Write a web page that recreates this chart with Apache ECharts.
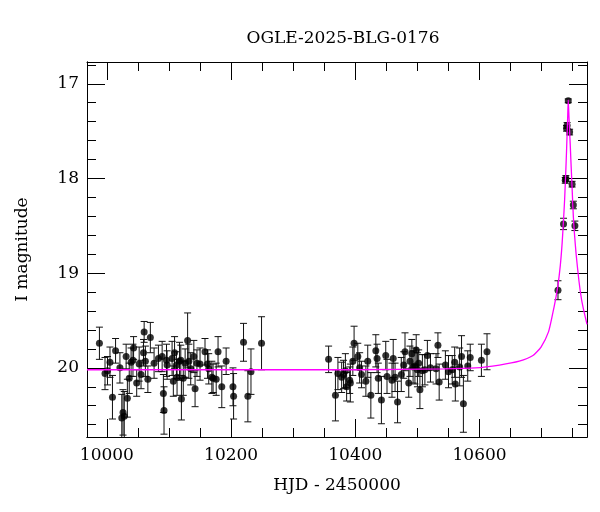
<!DOCTYPE html>
<html><head><meta charset="utf-8">
<script src="https://cdn.jsdelivr.net/npm/echarts@6/dist/echarts.min.js"></script>
<style>html,body{margin:0;padding:0;background:#fff}#c{width:600px;height:512px}</style>
</head><body><div id="c"></div>
<script>
const obsHJD = [
 9988,9997,10001,10005,10009,10014,10021,10024,10026,10028,10031,10033,10036,10039,10042,10043,10048,10052,10055,10059,10060,10062,10066,10070,10076,10083,10089,10091,10092,10096,10097,10105,10107,10109,10112,10113,10117,10119,10120,10123,10126,10130,10132,10135,10140,10142,10145,10150,10158,10162,10164,10169,10171,10176,10179,10185,10192,10203,10204,10220,10227,10232,10249,
 10357,10368,10372,10378,10381,10384,10386,10391,10392,10396,10398,10404,10407,10410,10417,10420,10425,10433,10435,10437,10442,10449,10451,10459,10461,10464,10468,10474,10478,10480,10486,10488,10491,10493,10496,10498,10500,10502,10504,10508,10512,10516,10521,10530,10533,10535,10545,10550,10556,10560,10561,10568,10571,10574,10581,10585,10603,10612,
 10726.3,10735.2,10738,10739,10740,10741,10742.8,10745,10749,10751,10753.5
];
const obsMag = [
 19.74,20.06,20.03,19.94,20.31,19.82,20.00,20.53,20.47,20.51,19.88,20.32,20.11,19.94,19.92,19.79,20.16,19.96,20.07,19.84,19.62,19.93,20.12,19.68,19.95,19.90,19.88,20.27,20.45,19.92,19.97,19.90,20.14,19.84,19.97,20.10,19.93,19.92,20.33,20.11,19.95,19.71,19.93,20.01,19.88,20.22,19.95,19.96,19.83,19.96,20.01,20.10,20.11,20.12,19.83,20.20,19.93,20.20,20.30,19.73,20.30,20.04,19.74,
 19.91,20.29,20.06,20.10,20.07,20.03,20.20,20.13,20.16,19.93,19.74,19.88,20.00,20.07,20.14,19.93,20.29,19.82,19.90,20.11,20.34,19.87,20.09,20.13,19.90,20.10,20.36,20.07,19.97,19.83,20.16,19.93,19.85,19.99,19.98,19.81,20.02,19.95,20.23,20.03,20.02,19.87,20.00,20.01,19.76,20.15,19.97,20.04,20.02,19.94,20.17,19.99,19.88,20.38,19.98,19.89,19.92,19.83,
 19.18,18.48,18.02,18.00,17.47,17.44,17.18,17.51,18.06,18.28,18.50
];
const obsErr = [
 0.17,0.17,0.15,0.16,0.23,0.13,0.16,0.25,0.24,0.26,0.13,0.20,0.16,0.15,0.17,0.12,0.14,0.18,0.15,0.14,0.11,0.16,0.14,0.16,0.16,0.14,0.16,0.20,0.25,0.17,0.15,0.18,0.16,0.17,0.14,0.19,0.20,0.16,0.22,0.18,0.15,0.29,0.18,0.17,0.17,0.19,0.14,0.17,0.14,0.15,0.16,0.17,0.15,0.17,0.16,0.22,0.14,0.20,0.24,0.20,0.27,0.24,0.28,
 0.14,0.27,0.17,0.16,0.15,0.18,0.15,0.14,0.20,0.15,0.18,0.14,0.16,0.14,0.16,0.17,0.24,0.17,0.15,0.16,0.25,0.15,0.18,0.18,0.20,0.15,0.22,0.18,0.14,0.20,0.15,0.16,0.15,0.17,0.19,0.16,0.18,0.14,0.20,0.17,0.16,0.16,0.15,0.16,0.13,0.19,0.15,0.17,0.15,0.16,0.18,0.20,0.22,0.30,0.16,0.14,0.17,0.19,
 0.10,0.06,0.03,0.03,0.03,0.03,0.02,0.03,0.03,0.04,0.05
];
const modelHJD = [9968,10400,10543,10593,10632,10664,10686,10699,10711,10718,10722,10726,10730,10733,10735,10737,10738,10739,10740,10741,10742,10742.8,10744,10745,10746,10747,10748,10749,10751,10753,10755.5,10760,10764,10768,10773];
const modelMag = [20.02,20.02,20.01,20.00,19.97,19.93,19.87,19.78,19.62,19.42,19.29,19.14,18.92,18.68,18.46,18.22,18.06,17.90,17.72,17.52,17.33,17.17,17.35,17.50,17.64,17.80,17.95,18.10,18.40,18.60,18.80,19.08,19.27,19.40,19.54];
const xMajorTicks = [10000,10200,10400,10600];
const xMinorTicks = [10000,10050,10100,10150,10200,10250,10300,10350,10400,10450,10500,10550,10600,10650,10700,10750];
const yMajorTicks = [17,18,19,20];
const yMinorTicks = [16.8,17.0,17.2,17.4,17.6,17.8,18.0,18.2,18.4,18.6,18.8,19.0,19.2,19.4,19.6,19.8,20.0,20.2,20.4,20.6];

const FONT = 'DejaVu Serif';
const X_MIN = 9968, X_MAX = 10773, Y_MIN = 16.77, Y_MAX = 20.73;
const line = {show:true, lineStyle:{color:'#000', width:1}};
function xAx(pos, ticks, len, labels, extra) {
  return Object.assign({
    type:'value', position:pos, min:X_MIN, max:X_MAX, scale:true,
    axisLine: labels!==null ? line : {show:false},
    axisTick:{show:true, inside:true, length:len, customValues:ticks, lineStyle:{color:'#000', width:1}},
    axisLabel: labels ? {show:true, customValues:labels, color:'#000', fontFamily:FONT, fontSize:17, margin:10, formatter: v => String(v)} : {show:false},
    splitLine:{show:false}
  }, extra||{});
}
function yAx(pos, ticks, len, labels, extra) {
  return Object.assign({
    type:'value', position:pos, min:Y_MIN, max:Y_MAX, inverse:true, scale:true,
    axisLine: labels!==null ? line : {show:false},
    axisTick:{show:true, inside:true, length:len, customValues:ticks, lineStyle:{color:'#000', width:1}},
    axisLabel: labels ? {show:true, customValues:labels, color:'#000', fontFamily:FONT, fontSize:17, margin:8, formatter: v => String(v)} : {show:false},
    splitLine:{show:false}
  }, extra||{});
}
const chart = echarts.init(document.getElementById('c'), null, {renderer:'canvas'});
const pts = obsHJD.map((x,i)=>[x, obsMag[i], obsErr[i]]);
chart.setOption({
  animation:false,
  backgroundColor:'#fff',
  title:{text:'OGLE-2025-BLG-0176', left:338, top:25, textAlign:'center',
    textStyle:{fontFamily:FONT, fontSize:17, fontWeight:'normal', color:'#000'}},
  grid:{left:87, right:13, top:62, bottom:75, containLabel:false},
  xAxis:[
    xAx('bottom', xMajorTicks, 18, xMajorTicks, {name:'HJD - 2450000', nameLocation:'middle', nameGap:40,
      nameTextStyle:{fontFamily:FONT, fontSize:17, color:'#000'}}),
    xAx('bottom', xMinorTicks, 9, false),
    xAx('top', xMajorTicks, 18, false),
    xAx('top', xMinorTicks, 9, null)
  ],
  yAxis:[
    yAx('left', yMajorTicks, 18, yMajorTicks, {name:'I magnitude', nameLocation:'middle', nameGap:56,
      nameTextStyle:{fontFamily:FONT, fontSize:17, color:'#000'}}),
    yAx('left', yMinorTicks, 9, false),
    yAx('right', yMajorTicks, 18, false),
    yAx('right', yMinorTicks, 9, null)
  ],
  series:[
    {type:'custom', xAxisIndex:0, yAxisIndex:0, data:pts, z:2, clip:true,
     renderItem:function(params, api){
       const x = api.value(0), y = api.value(1), e = api.value(2);
       const top = api.coord([x, y-e]), bot = api.coord([x, y+e]);
       const cw = 3.5;
       const st = {stroke:'#111', lineWidth:1};
       return {type:'group', children:[
         {type:'line', shape:{x1:top[0], y1:top[1], x2:bot[0], y2:bot[1]}, style:st},
         {type:'line', shape:{x1:top[0]-cw, y1:top[1], x2:top[0]+cw, y2:top[1]}, style:st},
         {type:'line', shape:{x1:bot[0]-cw, y1:bot[1], x2:bot[0]+cw, y2:bot[1]}, style:st}
       ]};
     }},
    {type:'scatter', xAxisIndex:0, yAxisIndex:0, data:pts.map(p=>[p[0],p[1]]), symbol:'circle', symbolSize:7,
     itemStyle:{color:'#000'}, z:3},
    {type:'line', xAxisIndex:0, yAxisIndex:0, data:modelHJD.map((x,i)=>[x, modelMag[i]]), showSymbol:false,
     smooth:0.2, lineStyle:{color:'#ff00ff', width:1.3}, z:4, clip:true}
  ]
});
</script></body></html>
